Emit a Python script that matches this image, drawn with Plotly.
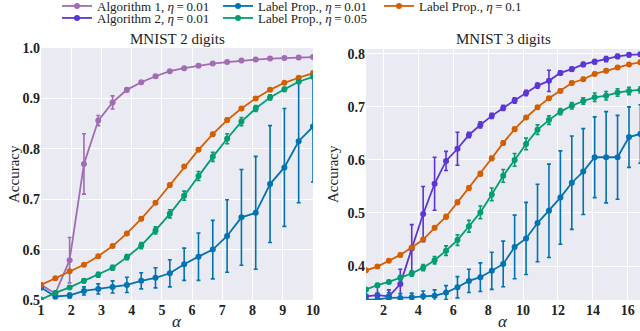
import plotly.graph_objects as go

# x grids (alpha)
alpha_2 = [1.0, 1.474, 1.947, 2.421, 2.895, 3.368, 3.842, 4.316, 4.789, 5.263,
           5.737, 6.211, 6.684, 7.158, 7.632, 8.105, 8.579, 9.053, 9.526, 10.0]
alpha_3 = [1.0, 1.655, 2.31, 2.966, 3.621, 4.276, 4.931, 5.586, 6.241, 6.897,
           7.552, 8.207, 8.862, 9.517, 10.172, 10.828, 11.483, 12.138, 12.793,
           13.448, 14.103, 14.759, 15.414, 16.069, 16.724]

# MNIST 2 digits
alg1_2 = [0.530, 0.513, 0.579, 0.770, 0.856, 0.892, 0.917, 0.932, 0.944, 0.954,
          0.960, 0.965, 0.969, 0.972, 0.975, 0.977, 0.979, 0.980, 0.981, 0.982]
alg1_2_err = [0.004, 0.004, 0.045, 0.060, 0.010, 0.013, 0.004, 0.003, 0.003, 0.002,
              0.002, 0.002, 0.002, 0.002, 0.002, 0.002, 0.002, 0.002, 0.002, 0.002]
lp01_2 = [0.525, 0.507, 0.509, 0.518, 0.522, 0.526, 0.530, 0.538, 0.544, 0.553,
          0.571, 0.586, 0.600, 0.627, 0.664, 0.673, 0.730, 0.763, 0.815, 0.844]
lp01_2_err = [0.004, 0.004, 0.005, 0.008, 0.010, 0.012, 0.015, 0.016, 0.020, 0.027,
              0.032, 0.047, 0.058, 0.072, 0.095, 0.112, 0.116, 0.117, 0.122, 0.110]
lp05_2 = [0.501, 0.514, 0.525, 0.538, 0.550, 0.564, 0.585, 0.608, 0.638, 0.671,
          0.707, 0.746, 0.784, 0.820, 0.854, 0.880, 0.902, 0.918, 0.933, 0.943]
lp05_2_err = [0.002, 0.003, 0.003, 0.004, 0.005, 0.005, 0.005, 0.006, 0.007, 0.008,
              0.009, 0.009, 0.009, 0.010, 0.008, 0.006, 0.005, 0.004, 0.003, 0.003]
lp1_2 = [0.530, 0.543, 0.557, 0.570, 0.587, 0.607, 0.632, 0.661, 0.693, 0.728,
         0.765, 0.798, 0.829, 0.857, 0.880, 0.900, 0.917, 0.931, 0.941, 0.950]
lp1_2_err = [0.002, 0.002, 0.002, 0.002, 0.002, 0.002, 0.002, 0.003, 0.003, 0.003,
             0.003, 0.003, 0.003, 0.003, 0.003, 0.002, 0.002, 0.002, 0.002, 0.002]

# MNIST 3 digits
alg2_3 = [0.343, 0.345, 0.343, 0.366, 0.433, 0.498, 0.555, 0.598, 0.621, 0.647,
          0.666, 0.683, 0.698, 0.712, 0.726, 0.740, 0.749, 0.764, 0.771, 0.780,
          0.785, 0.790, 0.795, 0.798, 0.799]
alg2_3_err = [0.012, 0.015, 0.012, 0.028, 0.045, 0.052, 0.050, 0.018, 0.031, 0.005,
              0.006, 0.005, 0.005, 0.005, 0.005, 0.005, 0.020, 0.004, 0.004, 0.004,
              0.004, 0.005, 0.004, 0.004, 0.003]
lp01_3 = [0.336, 0.337, 0.340, 0.340, 0.341, 0.343, 0.344, 0.350, 0.360, 0.372,
          0.379, 0.391, 0.404, 0.436, 0.452, 0.481, 0.504, 0.529, 0.557, 0.578,
          0.605, 0.605, 0.605, 0.643, 0.649]
lp01_3_err = [0.010, 0.012, 0.010, 0.008, 0.008, 0.010, 0.011, 0.013, 0.020, 0.022,
              0.027, 0.035, 0.043, 0.060, 0.068, 0.073, 0.088, 0.088, 0.088, 0.081,
              0.076, 0.086, 0.079, 0.057, 0.055]
lp05_3 = [0.356, 0.364, 0.370, 0.378, 0.386, 0.397, 0.411, 0.429, 0.449, 0.475,
          0.501, 0.535, 0.570, 0.600, 0.630, 0.657, 0.675, 0.691, 0.702, 0.711,
          0.718, 0.721, 0.727, 0.730, 0.732]
lp05_3_err = [0.003, 0.003, 0.003, 0.004, 0.005, 0.006, 0.007, 0.009, 0.010, 0.011,
              0.012, 0.012, 0.012, 0.012, 0.011, 0.009, 0.008, 0.006, 0.006, 0.006,
              0.008, 0.008, 0.007, 0.007, 0.006]
lp1_3 = [0.392, 0.399, 0.410, 0.421, 0.435, 0.450, 0.472, 0.493, 0.520, 0.547,
         0.574, 0.603, 0.632, 0.658, 0.680, 0.699, 0.716, 0.730, 0.745, 0.752,
         0.762, 0.768, 0.774, 0.780, 0.784]
lp1_3_err = [0.002, 0.002, 0.002, 0.003, 0.003, 0.003, 0.003, 0.004, 0.004, 0.004,
             0.004, 0.004, 0.004, 0.004, 0.003, 0.003, 0.003, 0.003, 0.003, 0.003,
             0.003, 0.003, 0.003, 0.003, 0.003]

C_ALG1 = "#a06cb4"
C_ALG2 = "#5b35d5"
C_LP01 = "#0173b2"
C_LP05 = "#029e73"
C_LP1 = "#d55e00"

SERIF = "Liberation Serif, DejaVu Serif, serif"
W, H = 640, 331
EQ = "\u2009=\u2009"

fig = go.Figure()


def add(x, y, err, color, name, xa, ya, legend, show):
    fig.add_trace(go.Scatter(
        x=x, y=y, mode="lines+markers", name=name,
        line=dict(color=color, width=1.8),
        marker=dict(color=color, size=6),
        error_y=dict(type="data", array=err, color=color, thickness=1.6, width=2),
        xaxis=xa, yaxis=ya, legend=legend, showlegend=show,
    ))


# legend = first row, legend2 = second row (trace order sets entry order)
add(alpha_2, alg1_2, alg1_2_err, C_ALG1, "Algorithm 1, <i>η</i>" + EQ + "0.01", "x", "y", "legend", True)
add(alpha_2, lp01_2, lp01_2_err, C_LP01, "Label Prop., <i>η</i>" + EQ + "0.01", "x", "y", "legend", True)
add(alpha_2, lp1_2, lp1_2_err, C_LP1, "Label Prop., <i>η</i>" + EQ + "0.1", "x", "y", "legend", True)
add(alpha_3, alg2_3, alg2_3_err, C_ALG2, "Algorithm 2, <i>η</i>" + EQ + "0.01", "x2", "y2", "legend2", True)
add(alpha_2, lp05_2, lp05_2_err, C_LP05, "Label Prop., <i>η</i>" + EQ + "0.05", "x", "y", "legend2", True)
# rest of right panel
add(alpha_3, lp01_3, lp01_3_err, C_LP01, "Label Prop., η = 0.01", "x2", "y2", "legend", False)
add(alpha_3, lp05_3, lp05_3_err, C_LP05, "Label Prop., η = 0.05", "x2", "y2", "legend2", False)
add(alpha_3, lp1_3, lp1_3_err, C_LP1, "Label Prop., η = 0.1", "x2", "y2", "legend", False)

tickfont = dict(family=SERIF, size=14, color="#222", weight="bold")
axis_common = dict(showgrid=True, gridcolor="white", gridwidth=1.2, zeroline=False,
                   showline=False, ticks="", tickfont=tickfont)

legend_common = dict(orientation="h", xanchor="left", yanchor="middle", x=57 / W,
                     bgcolor="rgba(0,0,0,0)", font=dict(family=SERIF, size=13, color="#222"),
                     entrywidth=116, entrywidthmode="pixels", itemwidth=30,
                     traceorder="normal", tracegroupgap=0)


def px_x(v):
    return v / W


def px_y(v):
    return 1 - v / H


fig.update_layout(
    width=W, height=H,
    margin=dict(l=0, r=0, t=0, b=0, autoexpand=False),
    paper_bgcolor="white", plot_bgcolor="#eaeaf2",
    font=dict(family=SERIF, color="#222"),
    xaxis=dict(domain=[px_x(41), px_x(313)], range=[1, 10], tickvals=list(range(1, 11)),
               anchor="y", **axis_common),
    yaxis=dict(domain=[px_y(300), px_y(48)], range=[0.5, 1.0],
               tickvals=[0.5, 0.6, 0.7, 0.8, 0.9, 1.0], tickformat=".1f", anchor="x", **axis_common),
    xaxis2=dict(domain=[px_x(366), 1.0], range=[1, 16.7], tickvals=list(range(2, 17, 2)),
                anchor="y2", **axis_common),
    yaxis2=dict(domain=[px_y(300), px_y(49)], range=[0.336, 0.809],
                tickvals=[0.4, 0.5, 0.6, 0.7, 0.8], tickformat=".1f", anchor="x2", **axis_common),
    legend=dict(y=px_y(6), **legend_common),
    legend2=dict(y=px_y(18), **legend_common),
)

for text, x, y, size, angle in [
    ("MNIST 2 digits", 177, 39, 15, 0),
    ("MNIST 3 digits", 503, 39, 15, 0),
    ("Accuracy", 14, 174, 15, -90),
    ("Accuracy", 333, 174, 15, -90),
    ("<i>α</i>", 177, 321, 17, 0),
    ("<i>α</i>", 503, 321, 17, 0),
]:
    fig.add_annotation(text=text, x=px_x(x), y=px_y(y), xref="paper", yref="paper",
                       xanchor="center", yanchor="middle", textangle=angle, showarrow=False,
                       font=dict(family=SERIF, size=size, color="#222"))

fig.write_html("out.html", config={"displayModeBar": False},
               post_script="document.body.style.margin = '0';")
